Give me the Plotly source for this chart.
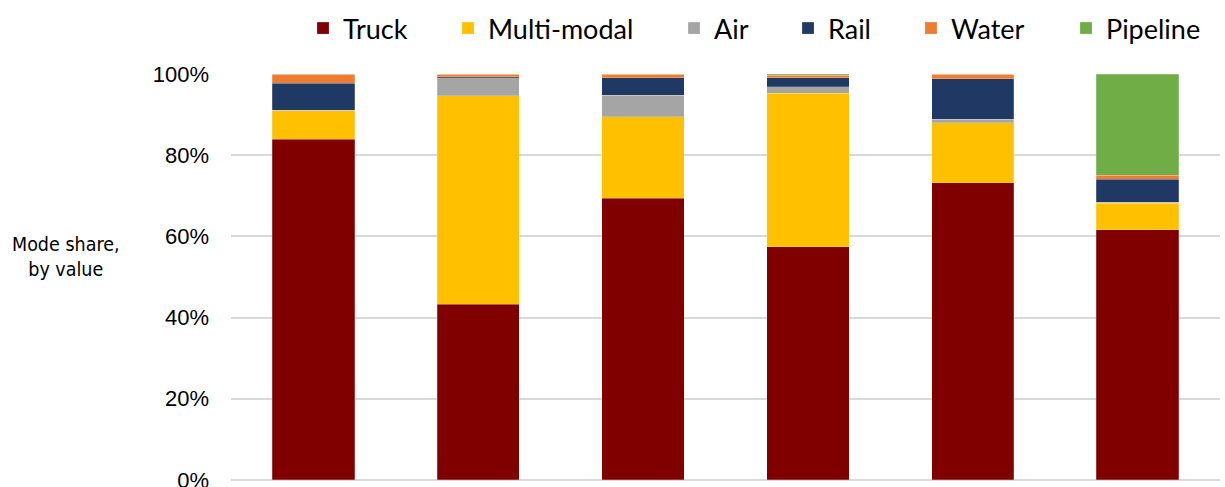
import plotly.graph_objects as go

categories = ["A", "B", "C", "D", "E", "F"]
truck = [83.9, 43.3, 69.4, 57.5, 73.2, 61.6]
multimodal = [7.1, 51.4, 20.1, 37.7, 14.8, 6.6]
air = [0.1, 4.4, 5.3, 1.7, 0.9, 0.2]
rail = [6.6, 0.2, 4.3, 2.2, 9.9, 5.7]
water = [2.3, 0.7, 0.9, 0.6, 1.2, 0.9]
pipeline = [0.0, 0.0, 0.0, 0.3, 0.0, 25.0]
tick_values = [0, 0.2, 0.4, 0.6, 0.8, 1.0]
tick_labels = ["0%", "20%", "40%", "60%", "80%", "100%"]

series_names = ["Truck", "Multi-modal", "Air", "Rail", "Water", "Pipeline"]
series_values = [truck, multimodal, air, rail, water, pipeline]
series_colors = ["#800000", "#FFC000", "#A5A5A5", "#203864", "#ED7D31", "#70AD47"]
# left pixel of each legend entry (one small legend per series)
legend_left_px = [303, 448, 674, 788, 911, 1066]

PLOT_L, PLOT_R, PLOT_T, PLOT_B = 231, 5, 74, 5
FIG_W, FIG_H = 1225, 487
plot_w = FIG_W - PLOT_L - PLOT_R

fig = go.Figure()
layout_legends = {}
for i, (name, vals, color) in enumerate(zip(series_names, series_values, series_colors)):
    key = "legend" if i == 0 else f"legend{i + 1}"
    fig.add_trace(go.Bar(
        name=name, x=categories, y=[v / 100 for v in vals],
        marker=dict(color=color, line=dict(color="rgba(255,255,255,0.35)", width=0.6)),
        legend=key,
    ))
    layout_legends[key] = dict(
        orientation="h", x=(legend_left_px[i] - PLOT_L) / plot_w, xanchor="left",
        y=1 - 28.5 / FIG_H, yref="container", yanchor="middle",
        font=dict(family="Lato, sans-serif", size=27, color="#000000"),
        itemwidth=30, bgcolor="rgba(0,0,0,0)",
    )

fig.update_layout(
    barmode="stack",
    bargap=0.5,
    width=FIG_W, height=FIG_H,
    margin=dict(l=PLOT_L, r=PLOT_R, t=PLOT_T, b=PLOT_B),
    plot_bgcolor="white", paper_bgcolor="white",
    showlegend=True,
    font=dict(family="Liberation Sans, Arial, sans-serif", color="#000000"),
    **layout_legends,
)
fig.update_xaxes(showticklabels=False, showgrid=False, zeroline=False, showline=False, ticks="",
                 automargin=False)
fig.update_yaxes(
    range=[-0.005, 1.0], tickvals=tick_values, ticktext=tick_labels,
    showgrid=True, gridcolor="#D9D9D9", gridwidth=2, zeroline=False,
    tickfont=dict(size=22, family="Liberation Sans, Arial, sans-serif", color="#000000"),
    ticklen=0, ticks="", ticklabelstandoff=21, ticklabeloverflow="allow",
    automargin=False,
)
fig.add_annotation(
    text="Mode share,<br>by value", xref="paper", yref="paper",
    x=-0.167, y=0.552, xanchor="center", yanchor="middle", showarrow=False,
    font=dict(size=19.5, family="DejaVu Sans Condensed, Liberation Sans, sans-serif", color="#000000"),
    align="center",
)
fig.write_html("out.html", post_script="document.body.style.margin='0px';",
               config={"displayModeBar": False})
